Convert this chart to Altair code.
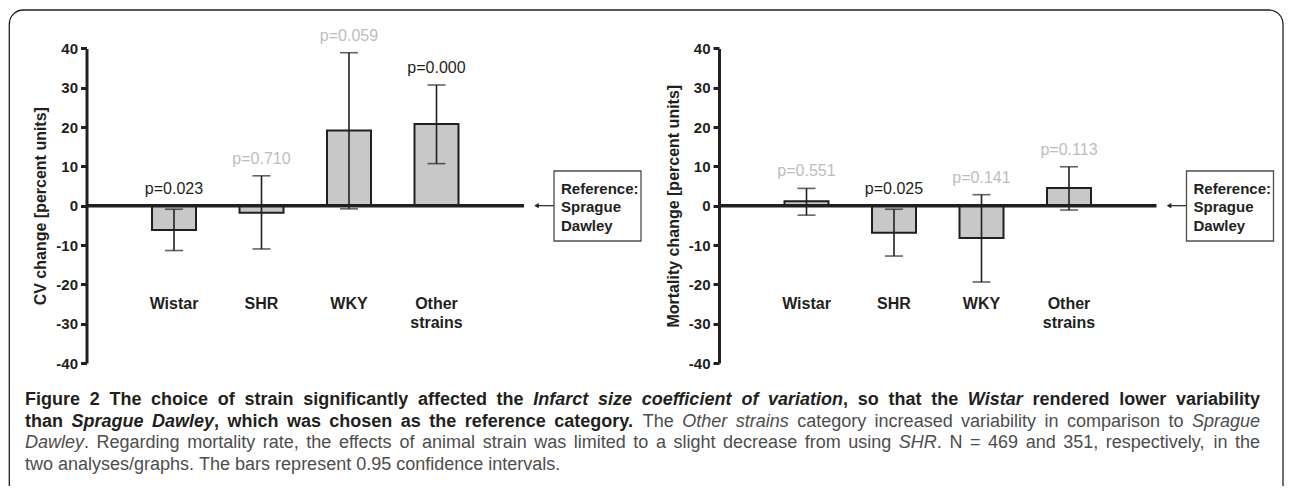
import re
import altair as alt
import pandas as pd

# ---------------- data ----------------
strains = ["Wistar", "SHR", "WKY", "Other strains"]
strain_labels = ["Wistar", "SHR", "WKY", "Other\nstrains"]

cv_change = [-6.2, -1.8, 19.1, 20.8]
cv_lo = [-11.4, -11.0, -0.8, 10.7]
cv_hi = [-0.9, 7.6, 38.9, 30.7]
cv_p = ["0.023", "0.710", "0.059", "0.000"]

mort_change = [1.1, -6.9, -8.2, 4.5]
mort_lo = [-2.4, -12.8, -19.4, -1.1]
mort_hi = [4.4, -0.9, 2.8, 9.9]
mort_p = ["0.551", "0.025", "0.141", "0.113"]

y_ticks = [-40, -30, -20, -10, 0, 10, 20, 30, 40]
cv_title = "CV change [percent units]"
mort_title = "Mortality change [percent units]"
reference_text = "Reference:\nSprague\nDawley"

caption_lines = [
    [("b", "Figure 2 The choice of strain significantly affected the "),
     ("bi", "Infarct size coefficient of variation"),
     ("b", ", so that the "), ("bi", "Wistar"),
     ("b", " rendered lower variability")],
    [("b", "than "), ("bi", "Sprague Dawley"),
     ("b", ", which was chosen as the reference category."),
     ("l", " The "), ("li", "Other strains"),
     ("l", " category increased variability in comparison to "),
     ("li", "Sprague")],
    [("li", "Dawley"),
     ("l", ". Regarding mortality rate, the effects of animal strain was limited to a slight decrease from using "),
     ("li", "SHR"), ("l", ". N = 469 and 351, respectively, in the")],
    [("l", "two analyses/graphs. The bars represent 0.95 confidence intervals.")],
]

# ---------------- styling / layout ----------------
FONT = "Liberation Sans"
INK = "#231f20"
W, H = 1276, 478
PANEL_W = 437.5
Y_RANGE = [355.0, 40.4]

# Arial / Liberation Sans advance widths (1/1000 em)
REG = dict(zip("abcdefghijklmnopqrstuvwxyz",
               [556, 556, 500, 556, 556, 278, 556, 556, 222, 222, 500, 222, 833,
                556, 556, 556, 556, 333, 500, 278, 556, 500, 722, 500, 500, 500]))
REG.update(dict(zip("ABCDEFGHIJKLMNOPQRSTUVWXYZ",
                    [667, 667, 722, 722, 667, 611, 778, 722, 278, 500, 667, 556, 833,
                     722, 778, 667, 778, 722, 667, 611, 722, 667, 944, 667, 667, 611])))
REG.update({c: 556 for c in "0123456789"})
REG.update({" ": 278, ".": 278, ",": 278, "/": 278, "=": 584, "-": 333, ":": 278})
BOLD = dict(zip("abcdefghijklmnopqrstuvwxyz",
                [556, 611, 556, 611, 556, 333, 611, 611, 278, 278, 556, 278, 889,
                 611, 611, 611, 611, 389, 556, 333, 611, 556, 778, 556, 556, 500]))
BOLD.update(dict(zip("ABCDEFGHIJKLMNOPQRSTUVWXYZ",
                     [722, 722, 722, 722, 667, 611, 778, 722, 278, 556, 722, 611, 833,
                      722, 778, 667, 778, 722, 667, 611, 722, 667, 944, 667, 667, 611])))
BOLD.update({c: 556 for c in "0123456789"})
BOLD.update({" ": 278, ".": 278, ",": 278, "/": 278, "=": 584, "-": 333, ":": 333})

CAP_SIZE = 18
CAP_LEFT, CAP_RIGHT = 17, 1252
CAP_BASELINES = [397.3, 418.5, 440.0, 461.5]


def text_width(s, style):
    table = BOLD if style.startswith("b") else REG
    return sum(table.get(c, 556) for c in s) * CAP_SIZE / 1000.0


rows = []
for li, segs in enumerate(caption_lines):
    tokens = []
    pending = False
    for style, text in segs:
        for part in re.split(r"( )", text):
            if part == " ":
                pending = True
            elif part:
                tokens.append([style, part, pending and len(tokens) > 0])
                pending = False
    natural = 0.0
    gaps = 0
    for style, word, sp in tokens:
        if sp:
            natural += text_width(" ", style)
            gaps += 1
        natural += text_width(word, style)
    justify = li < len(caption_lines) - 1
    extra = (CAP_RIGHT - CAP_LEFT - natural) / gaps if (justify and gaps) else 0.0
    x = CAP_LEFT
    for style, word, sp in tokens:
        if sp:
            x += text_width(" ", style) + extra
        rows.append({"word": word, "style": style, "x": x, "y": CAP_BASELINES[li]})
        x += text_width(word, style)
caption_df = pd.DataFrame(rows)

one = pd.DataFrame({"k": [0]})


def panel(change, lo, hi, pvals, title, x0):
    df = pd.DataFrame({
        "strain": strains,
        "label": strain_labels,
        "change": change,
        "lo": lo,
        "hi": hi,
        "plab": ["p=" + p for p in pvals],
        "pcol": [INK if float(p) < 0.05 else "#bdbdbd" for p in pvals],
    })
    df["ptop"] = [max(h, 0.0) for h in hi]

    xs = alt.X("strain:N", sort=strains, axis=None,
               scale=alt.Scale(type="point", domain=strains,
                               range=[x0, x0 + PANEL_W], padding=1))
    yscale = alt.Scale(domain=[-40, 40], range=Y_RANGE, nice=False, zero=False)
    yaxis = alt.Axis(orient="left", offset=-x0, values=y_ticks, grid=False,
                     domainWidth=3, domainColor=INK, tickWidth=3, tickSize=6,
                     tickColor=INK, labelFont=FONT, labelFontSize=15,
                     labelFontWeight="bold", labelColor=INK, labelPadding=3,
                     labelFlush=False, labelOverlap=False,
                     labelExpr="toString(datum.value)",
                     title=title, titleFont=FONT, titleFontSize=16,
                     titleFontWeight="bold", titleColor=INK, titlePadding=7)

    def Y(field=None, datum=None):
        if datum is not None:
            return alt.Y(datum=datum, type="quantitative", scale=yscale, axis=yaxis)
        return alt.Y(field, type="quantitative", scale=yscale, axis=yaxis)

    base = alt.Chart(df)
    bars = base.mark_bar(size=44, fill="#c8c8c8", stroke=INK, strokeWidth=2).encode(
        x=xs, y=Y("change"))
    err = base.mark_rule(strokeWidth=1.6, color=INK).encode(
        x=xs, y=Y("lo"), y2="hi")
    cap_lo = base.mark_tick(size=18, thickness=1.6, color=INK, orient="horizontal").encode(
        x=xs, y=Y("lo"))
    cap_hi = base.mark_tick(size=18, thickness=1.6, color=INK, orient="horizontal").encode(
        x=xs, y=Y("hi"))
    zero = alt.Chart(one).mark_rule(strokeWidth=3.5, color=INK).encode(
        x=alt.value(x0), x2=alt.value(x0 + PANEL_W), y=Y(datum=0))
    plabels = base.mark_text(font=FONT, fontSize=16, baseline="alphabetic", dy=-12).encode(
        x=xs, y=Y("ptop"), text="plab:N", color=alt.Color("pcol:N", scale=None))
    cats = base.mark_text(font=FONT, fontSize=16, fontWeight="bold", color=INK,
                          baseline="top", lineBreak="\n", lineHeight=19).encode(
        x=xs, y=Y(datum=-23), text="label:N")
    arrow = alt.Chart(one).mark_rule(strokeWidth=1.2, color=INK).encode(
        x=alt.value(x0 + 450), x2=alt.value(x0 + 467.5), y=Y(datum=0))
    head = alt.Chart(one).mark_point(shape="triangle-left", filled=True, size=28,
                                     color=INK, opacity=1).encode(
        x=alt.value(x0 + 450), y=Y(datum=0))
    box = alt.Chart(one).mark_rect(fill="white", stroke="#4d4d4d", strokeWidth=1.3).encode(
        x=alt.value(x0 + 467.5), x2=alt.value(x0 + 554.5),
        y=alt.value(163), y2=alt.value(233))
    box_text = alt.Chart(one).mark_text(
        text=reference_text, font=FONT, fontSize=15, fontWeight="bold", color=INK,
        align="left", baseline="alphabetic", lineBreak="\n", lineHeight=18.6).encode(
        x=alt.value(x0 + 474.5), y=alt.value(185.5))
    return alt.layer(bars, err, cap_lo, cap_hi, zero, plabels, cats,
                     arrow, head, box, box_text)


left = panel(cv_change, cv_lo, cv_hi, cv_p, cv_title, 78.5)
right = panel(mort_change, mort_lo, mort_hi, mort_p, mort_title, 711.0)

STYLE = {
    "b": dict(fontWeight="bold", fontStyle="normal", color=INK),
    "bi": dict(fontWeight="bold", fontStyle="italic", color=INK),
    "l": dict(fontWeight="normal", fontStyle="normal", color="#4d4d4d"),
    "li": dict(fontWeight="normal", fontStyle="italic", color="#4d4d4d"),
}
caption_layers = []
for key, st in STYLE.items():
    caption_layers.append(
        alt.Chart(caption_df).transform_filter(alt.datum.style == key).mark_text(
            font=FONT, fontSize=CAP_SIZE, align="left", baseline="alphabetic", **st
        ).encode(
            x=alt.X("x:Q", scale=None, axis=None),
            y=alt.Y("y:Q", scale=None, axis=None),
            text="word:N",
        )
    )

border = alt.Chart(one).mark_rect(cornerRadius=14, fillOpacity=0, stroke=INK,
                                  strokeWidth=1.3).encode(
    x=alt.value(1.3), x2=alt.value(W - 1), y=alt.value(2), y2=alt.value(H + 40))

chart = alt.layer(left, right, *caption_layers, border).resolve_scale(
    x="independent", y="independent"
).properties(
    width=W, height=H, padding=0,
    autosize=alt.AutoSizeParams(type="none"),
    background="white",
).configure_view(stroke=None)

chart.save("out.html", embed_options={"renderer": "svg", "actions": False})
